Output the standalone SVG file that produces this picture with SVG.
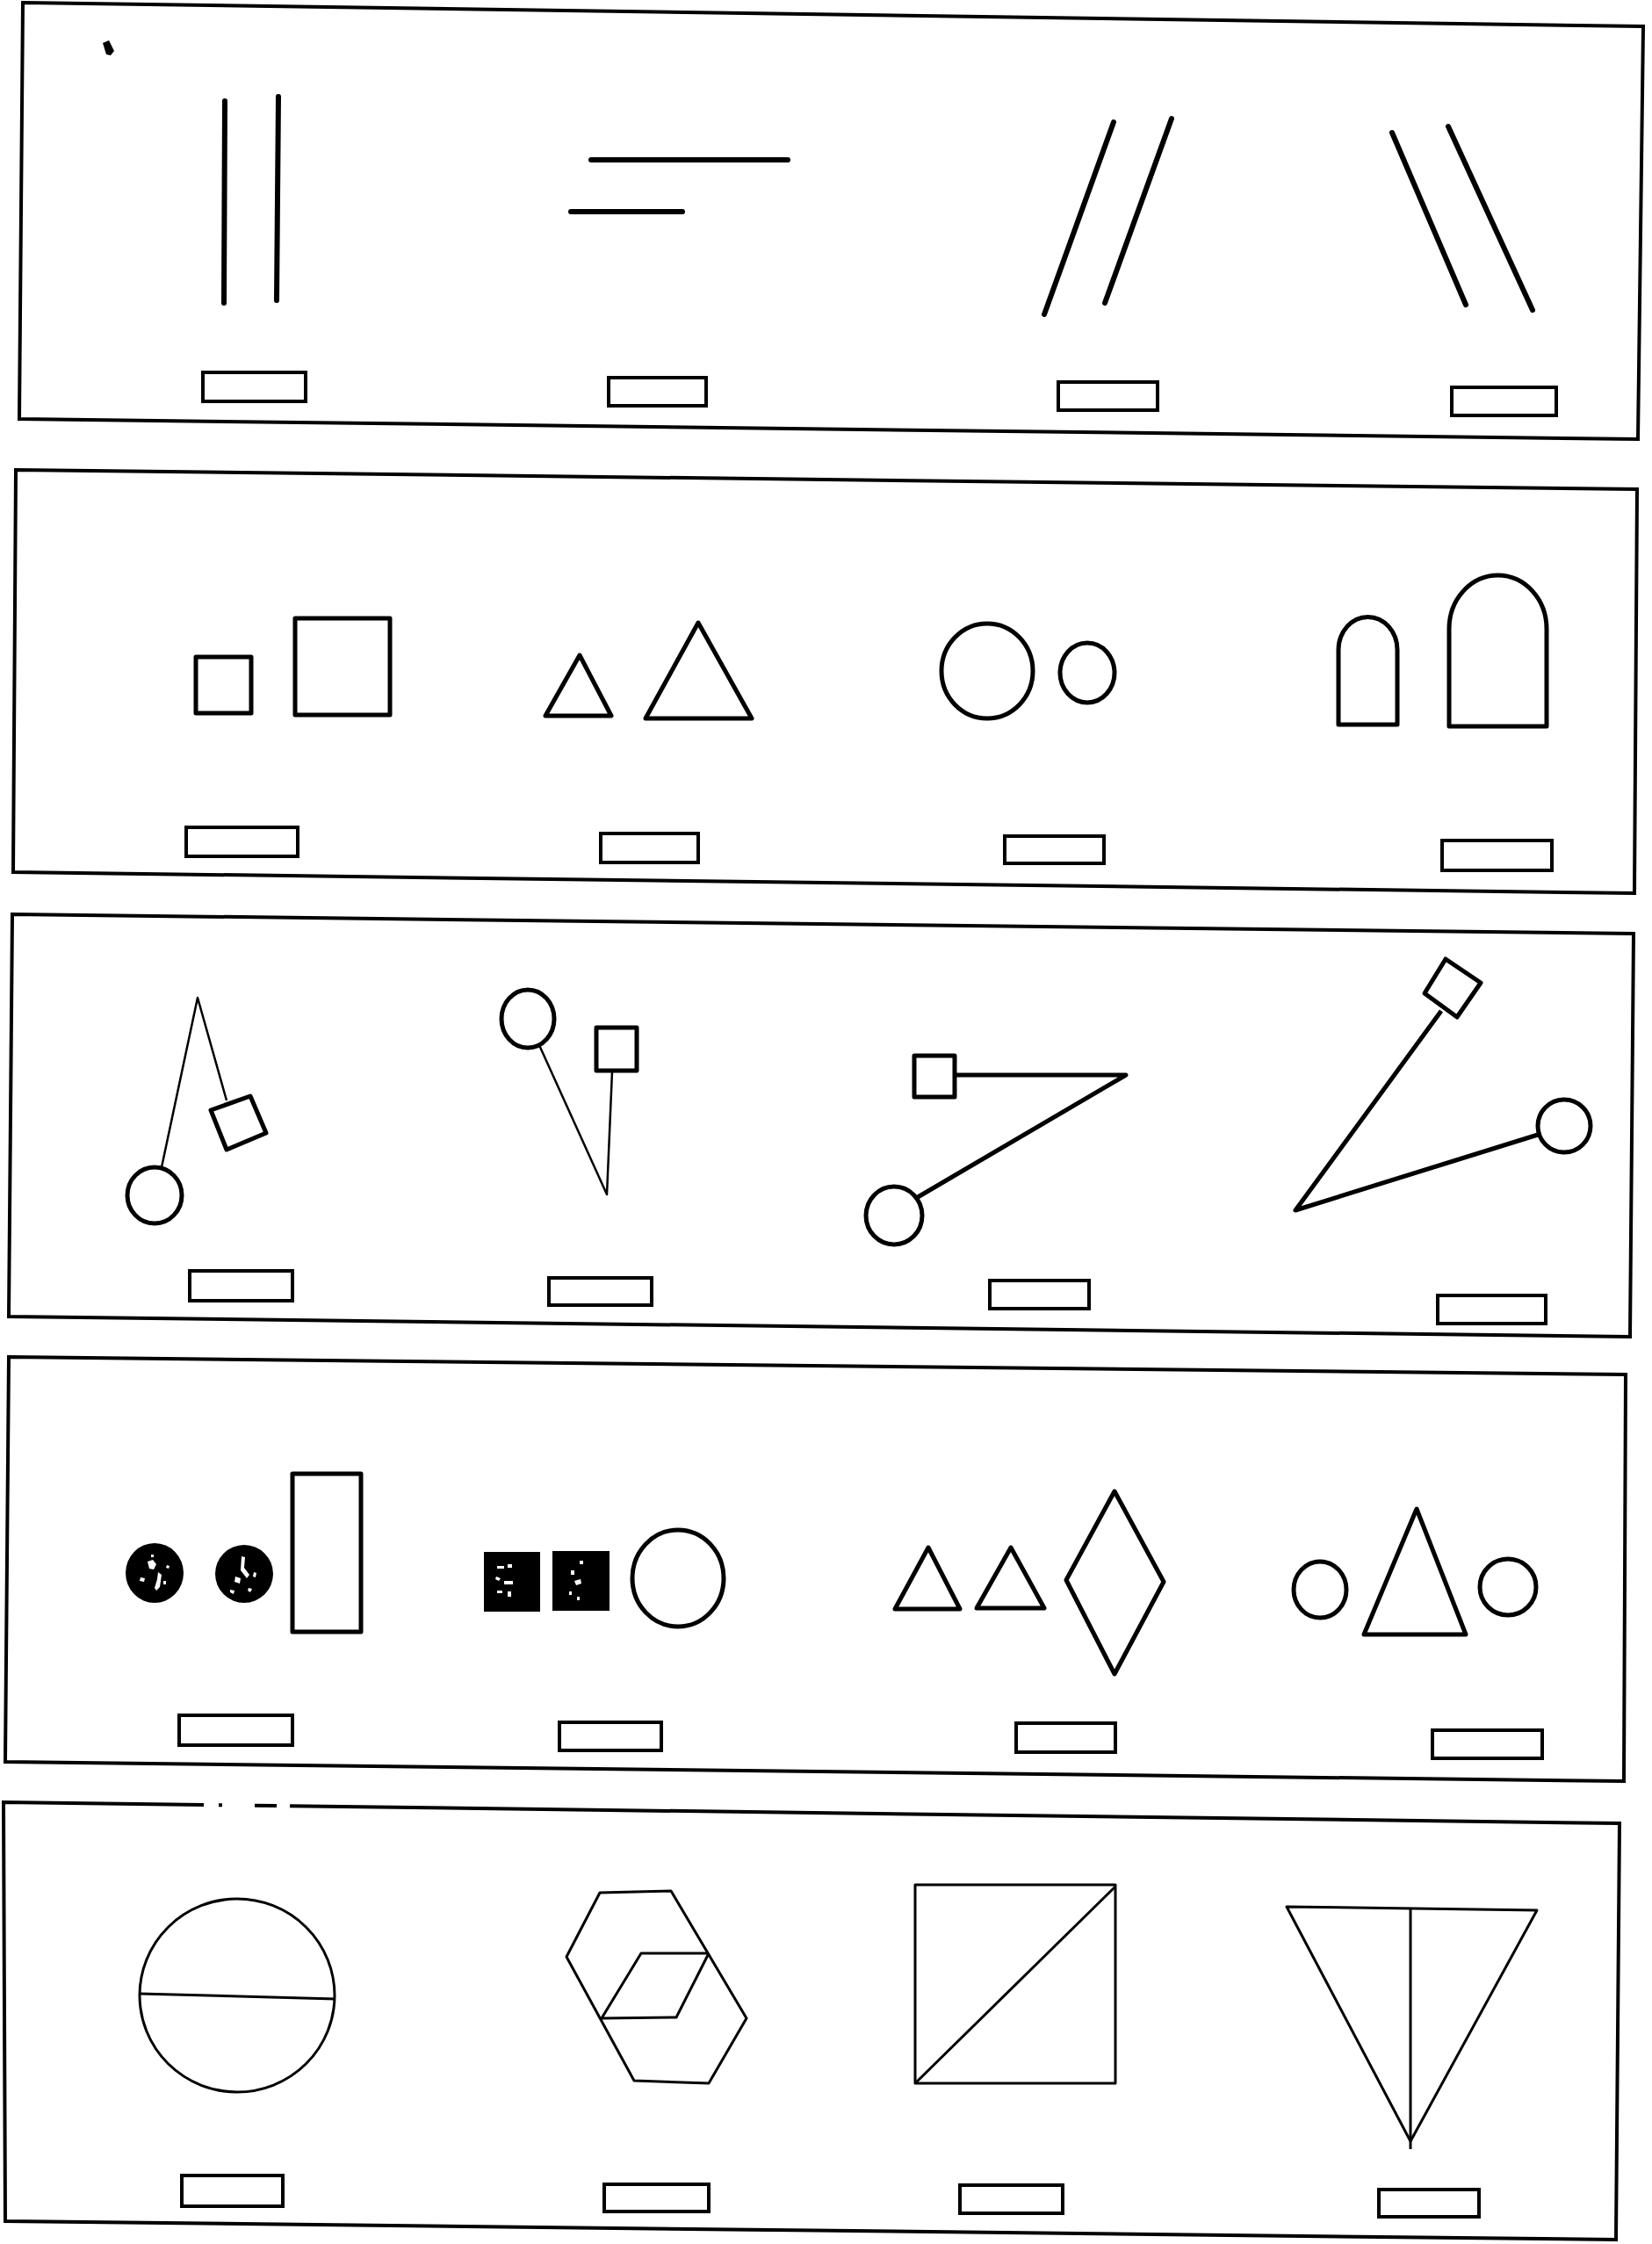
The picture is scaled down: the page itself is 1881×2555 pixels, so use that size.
<svg xmlns="http://www.w3.org/2000/svg" width="1881" height="2555" viewBox="0 0 1881 2555">
<style>
.frame{fill:none;stroke:#000;stroke-width:4;stroke-linejoin:miter}
.lbl{fill:none;stroke:#000;stroke-width:4}
.thick{fill:none;stroke:#000;stroke-width:6;stroke-linecap:round;stroke-linejoin:round}
.med{fill:none;stroke:#000;stroke-width:5;stroke-linejoin:round}
.thin{fill:none;stroke:#000;stroke-width:3;stroke-linejoin:round}
.hair{fill:none;stroke:#000;stroke-width:2.5;stroke-linejoin:round}
.solid{fill:#000;stroke:none}
.speck{fill:#fff;stroke:none}
.dot{fill:#000;stroke:none}
</style>
<rect x="0" y="0" width="1881" height="2555" fill="#fff"/>

<g id="frames">
<polygon class="frame" points="26,3 1871,30 1865,500 22,477"/>
<polygon class="frame" points="18,535 1864,557 1861,1017 15,993"/>
<polygon class="frame" points="14,1041 1860,1063 1856,1522 10,1499"/>
<polygon class="frame" points="10,1545 1851,1565 1849,2028 6,2006"/>
<path class="frame" d="M232,2055 L4,2052 L6,2529 L1840,2550 L1844,2076 L330,2056.2 M315,2056 L290,2055.8 M253,2055.3 L249,2055.3"/>
</g>

<g id="panel1">
<g id="p1-parallel-vertical">
<line class="thick" x1="256" y1="115" x2="255" y2="345"/>
<line class="thick" x1="317" y1="110" x2="315" y2="342"/>
</g>
<g id="p1-parallel-horizontal">
<line class="thick" x1="673" y1="182" x2="897" y2="182"/>
<line class="thick" x1="650" y1="241" x2="777" y2="241"/>
</g>
<g id="p1-slant-right">
<line class="thick" x1="1268" y1="139" x2="1189" y2="358"/>
<line class="thick" x1="1334" y1="135" x2="1258" y2="345"/>
</g>
<g id="p1-slant-left">
<line class="thick" x1="1585" y1="151" x2="1669" y2="347"/>
<line class="thick" x1="1649" y1="144" x2="1745" y2="353"/>
</g>
<path class="dot" d="M117,49 L124,46 L130,58 L126,63 L121,62 Z"/>
<rect class="lbl" x="231" y="424" width="117" height="33"/>
<rect class="lbl" x="693" y="430" width="111" height="32"/>
<rect class="lbl" x="1205" y="435" width="113" height="32"/>
<rect class="lbl" x="1653" y="441" width="119" height="32"/>
</g>

<g id="panel2">
<g id="p2-squares">
<rect class="med" x="223" y="748" width="63" height="64" stroke-width="6"/>
<rect class="med" x="336" y="704" width="108" height="110" stroke-width="6"/>
</g>
<g id="p2-triangles">
<polygon class="med" points="660,746 696,815 621,815" stroke-width="6"/>
<polygon class="med" points="795,709 856,818 735,818" stroke-width="6"/>
</g>
<g id="p2-circles">
<ellipse class="med" cx="1124" cy="764" rx="52" ry="54" stroke-width="6"/>
<ellipse class="med" cx="1238" cy="766" rx="31" ry="34" stroke-width="7"/>
</g>
<g id="p2-arches">
<path class="med" stroke-width="6" d="M1524,825 V740 A33,37 0 0 1 1591,740 V825 Z"/>
<path class="med" stroke-width="6" d="M1650,827 V716 A55.5,61 0 0 1 1761,716 V827 Z"/>
</g>
<rect class="lbl" x="212" y="942" width="127" height="33"/>
<rect class="lbl" x="684" y="949" width="111" height="33"/>
<rect class="lbl" x="1144" y="952" width="113" height="31"/>
<rect class="lbl" x="1642" y="957" width="125" height="34"/>
</g>

<g id="panel3">
<g id="p3-fig1">
<polyline class="hair" stroke-width="3" points="184,1329 225,1136 258,1253"/>
<polygon class="med" points="285,1248 303,1290 258,1309 240,1264" stroke-width="4"/>
<ellipse class="med" cx="176" cy="1361" rx="31" ry="32" stroke-width="5"/>
</g>
<g id="p3-fig2">
<polyline class="hair" stroke-width="3" points="614,1190 691,1360 697,1220"/>
<ellipse class="med" cx="601" cy="1160" rx="30" ry="33" stroke-width="6"/>
<rect class="med" x="679" y="1170" width="46" height="49" stroke-width="4"/>
</g>
<g id="p3-fig3">
<rect class="med" x="1041" y="1202" width="46" height="47" stroke-width="4"/>
<polyline class="med" stroke-width="5" points="1087,1224 1282,1224 1045,1363"/>
<ellipse class="med" cx="1018" cy="1384" rx="32" ry="33" stroke-width="6"/>
</g>
<g id="p3-fig4">
<polygon class="med" points="1646,1092 1686,1119 1659,1158 1622,1131" stroke-width="4.5"/>
<polyline class="med" stroke-width="4" points="1641,1151 1475,1378 1751,1292"/>
<circle class="med" cx="1781" cy="1282" r="30" stroke-width="6"/>
</g>
<rect class="lbl" x="216" y="1447" width="117" height="34"/>
<rect class="lbl" x="625" y="1455" width="117" height="31"/>
<rect class="lbl" x="1127" y="1458" width="113" height="32"/>
<rect class="lbl" x="1637" y="1475" width="123" height="32"/>
</g>

<g id="panel4">
<g id="p4-fig1">
<ellipse class="solid" cx="176" cy="1791" rx="33" ry="34"/>
<path class="speck" d="M168,1778 l6,-2 l4,5 l-3,6 l-5,-1 Z M180,1790 l4,3 l-2,14 l-4,4 l-2,-3 l3,-10 Z M160,1796 l5,1 l-1,4 l-5,-1 Z M186,1800 l3,0 l0,4 l-3,0 Z M172,1770 l3,0 l0,3 l-3,0 Z M190,1782 l3,1 l-1,3 l-3,-1 Z"/>
<ellipse class="solid" cx="278" cy="1792" rx="33" ry="33"/>
<path class="speck" d="M275,1772 l4,1 l-1,12 l6,8 l-3,4 l-7,-9 Z M268,1795 l6,2 l-1,6 l-6,-2 Z M289,1790 l3,1 l-1,5 l-3,-1 Z M283,1808 l4,1 l-2,4 l-3,-2 Z M262,1810 l5,1 l-1,4 l-4,-2 Z"/>
<rect class="med" x="333" y="1678" width="78" height="180" stroke-width="7"/>
</g>
<g id="p4-fig2">
<rect class="solid" x="551" y="1767" width="64" height="68"/>
<path class="speck" d="M566,1783 l8,0 l0,3 l-8,0 Z M578,1781 l5,0 l0,4 l-5,0 Z M565,1795 l5,2 l-2,3 l-4,-2 Z M574,1800 l10,0 l0,4 l-10,0 Z M566,1811 l6,0 l0,3 l-6,0 Z M578,1812 l4,0 l0,6 l-4,0 Z"/>
<rect class="solid" x="629" y="1766" width="65" height="68"/>
<path class="speck" d="M650,1788 l4,0 l0,5 l-4,0 Z M660,1777 l4,0 l0,4 l-4,0 Z M654,1800 l7,-2 l1,5 l-6,2 Z M648,1812 l3,0 l0,4 l-3,0 Z M657,1818 l3,0 l0,4 l-3,0 Z"/>
<ellipse class="med" cx="772" cy="1797" rx="52" ry="55" stroke-width="7"/>
</g>
<g id="p4-fig3">
<polygon class="med" points="1057,1762 1093,1832 1019,1832" stroke-width="6"/>
<polygon class="med" points="1151,1762 1189,1831 1112,1831" stroke-width="6"/>
<polygon class="med" points="1269,1698 1325,1801 1269,1906 1214,1799" stroke-width="6"/>
</g>
<g id="p4-fig4">
<ellipse class="med" cx="1503" cy="1810" rx="30" ry="32" stroke-width="7"/>
<polygon class="med" points="1613,1718 1669,1861 1553,1861" stroke-width="6"/>
<ellipse class="med" cx="1717" cy="1807" rx="32" ry="32" stroke-width="7"/>
</g>
<rect class="lbl" x="204" y="1953" width="129" height="34"/>
<rect class="lbl" x="637" y="1961" width="116" height="32"/>
<rect class="lbl" x="1157" y="1962" width="113" height="33"/>
<rect class="lbl" x="1631" y="1970" width="125" height="32"/>
</g>

<g id="panel5">
<g id="p5-circle">
<ellipse class="thin" cx="270" cy="2272" rx="111" ry="110"/>
<line class="thin" x1="159" y1="2270" x2="382" y2="2276"/>
</g>
<g id="p5-hexagon">
<polygon class="thin" points="683,2155 764,2153 850,2298 807,2372 722,2369 645,2228"/>
<polyline class="thin" points="807,2224 730,2224 685,2298 770,2297 807,2224"/>
</g>
<g id="p5-square">
<rect class="thin" x="1042" y="2146" width="228" height="226"/>
<line class="thin" x1="1042" y1="2372" x2="1270" y2="2148"/>
</g>
<g id="p5-triangle">
<polygon class="thin" points="1465,2171 1750,2175 1606,2438"/>
<line class="thin" x1="1606" y1="2173" x2="1606" y2="2447"/>
</g>
<rect class="lbl" x="207" y="2477" width="115" height="35"/>
<rect class="lbl" x="688" y="2487" width="119" height="31"/>
<rect class="lbl" x="1093" y="2488" width="117" height="32"/>
<rect class="lbl" x="1570" y="2493" width="114" height="31"/>
</g>
</svg>
